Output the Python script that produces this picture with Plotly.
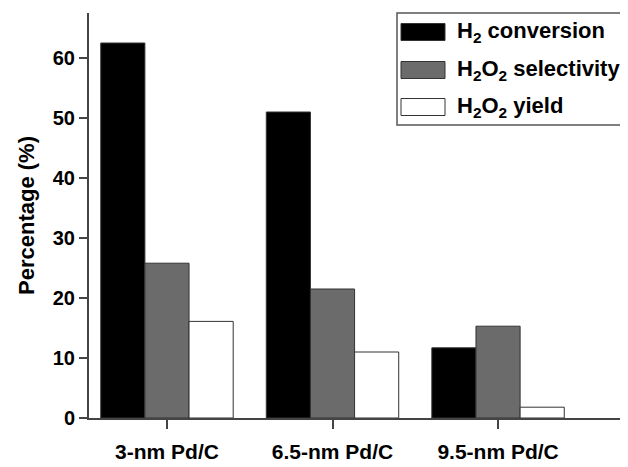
import plotly.graph_objects as go

categories = ["3-nm Pd/C", "6.5-nm Pd/C", "9.5-nm Pd/C"]
h2_conversion = [62.5, 51.0, 11.7]
h2o2_selectivity = [25.8, 21.5, 15.3]
h2o2_yield = [16.1, 11.0, 1.8]
y_ticks = [0, 10, 20, 30, 40, 50, 60]

series = [
    ("H<sub>2</sub> conversion", h2_conversion, "#000000"),
    ("H<sub>2</sub>O<sub>2</sub> selectivity", h2o2_selectivity, "#6b6b6b"),
    ("H<sub>2</sub>O<sub>2</sub> yield", h2o2_yield, "#ffffff"),
]

FONT = "Liberation Sans, Arial, sans-serif"
W, H = 628, 467
OFF = 8  # page body margin offset
# target plot area on screen: x 89..628, y 13..418
L, R, T, B = 89 - OFF, OFF, 13 - OFF, (H - 418) + OFF

fig = go.Figure()
for name, vals, col in series:
    fig.add_trace(go.Bar(
        x=categories, y=vals, name=name,
        marker=dict(color=col, line=dict(color="#333333", width=1)),
        showlegend=False,
    ))

fig.update_layout(
    width=W, height=H,
    margin=dict(l=L, r=R, t=T, b=B, pad=0, autoexpand=False),
    paper_bgcolor="white", plot_bgcolor="white",
    barmode="group", bargap=0.2, bargroupgap=0,
    font=dict(family=FONT, color="#000000", weight="bold"),
)
fig.update_xaxes(
    range=[-0.471, 2.785], automargin=False,
    showline=True, linecolor="#444444", linewidth=2,
    ticks="outside", ticklen=9, tickwidth=2, tickcolor="#444444",
    tickfont=dict(size=21, family=FONT, weight="bold"),
    ticklabelstandoff=5,
    showgrid=False, zeroline=False,
)
fig.update_yaxes(
    range=[0, 67.5], automargin=False,
    tickvals=y_ticks,
    showline=True, linecolor="#444444", linewidth=2,
    ticks="outside", ticklen=8, tickwidth=2, tickcolor="#444444",
    tickfont=dict(size=20, family=FONT, weight="bold"),
    showgrid=False, zeroline=False,
    title=dict(text="Percentage (%)", font=dict(size=22, family=FONT, weight="bold"), standoff=12),
)

# Manual legend (screen pixel layout converted to paper coordinates)
PW, PH = W - L - R, H - T - B
def px(x):
    return (x - OFF - L) / PW
def py(y):
    return (H - B - (y - OFF)) / PH

shapes = [dict(type="rect", xref="paper", yref="paper",
               x0=px(397), x1=px(627), y0=py(125), y1=py(13),
               line=dict(color="#555555", width=1.5), fillcolor="white", layer="above")]
annotations = []
rows = [32, 70, 107]
for (name, vals, col), yc in zip(series, rows):
    shapes.append(dict(type="rect", xref="paper", yref="paper",
                       x0=px(401), x1=px(445), y0=py(yc + 8.5), y1=py(yc - 8.5),
                       line=dict(color="#333333", width=1), fillcolor=col, layer="above"))
    annotations.append(dict(xref="paper", yref="paper", x=px(455), y=py(yc),
                            text=name, showarrow=False, xanchor="left", yanchor="middle",
                            font=dict(size=22, family=FONT, weight="bold", color="#000000")))
fig.update_layout(shapes=shapes, annotations=annotations)

fig.write_html("out.html")
